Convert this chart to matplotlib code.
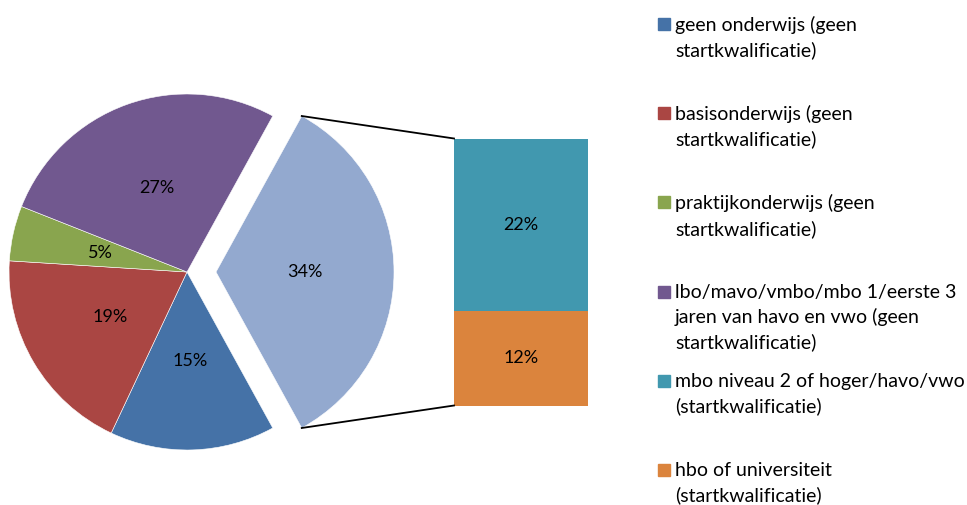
import numpy as np
import matplotlib
matplotlib.use("Agg")
import matplotlib.pyplot as plt
from matplotlib.patches import Rectangle

plt.rcParams['font.family'] = ['Lato', 'DejaVu Sans']

# pie part (percentages)
pie_labels = [
    "geen onderwijs (geen\nstartkwalificatie)",
    "basisonderwijs (geen\nstartkwalificatie)",
    "praktijkonderwijs (geen\nstartkwalificatie)",
    "lbo/mavo/vmbo/mbo 1/eerste 3\njaren van havo en vwo (geen\nstartkwalificatie)",
]
pie_values = [15, 19, 5, 27]
pie_colors = ["#4572A7", "#AA4643", "#89A54E", "#71588F"]

# bar part (split of the exploded slice)
bar_labels = [
    "mbo niveau 2 of hoger/havo/vwo\n(startkwalificatie)",
    "hbo of universiteit\n(startkwalificatie)",
]
bar_values = [22, 12]
bar_colors = ["#4198AF", "#DB843D"]
other_color = "#93A9CF"

W, H = 967, 505
fig = plt.figure(figsize=(W / 100, H / 100), dpi=100)
ax = fig.add_axes([0, 0, 1, 1])

R = 178
cx, cy = 187, 233
shift = 29
other = sum(bar_values)
start = -other * 3.6 / 2

values = pie_values + [other]
wedges, texts, autotexts = ax.pie(
    values, radius=R, center=(cx, cy), startangle=start, counterclock=False,
    explode=[0] * len(pie_values) + [shift],
    colors=pie_colors + [other_color],
    autopct=lambda p: f"{p:.0f}%", pctdistance=0.5,
    wedgeprops=dict(edgecolor='white', linewidth=0.4),
    textprops=dict(fontsize=13, color='black'), frame=True)
ax.set_xlim(0, W)
ax.set_ylim(0, H)
ax.set_aspect('equal')
ax.axis('off')

# stacked bar of the split
scale = 0.75 * 2 * R / other
bx, bw = 521, 134
bottom = cy - other * scale / 2
for v, c in zip(bar_values[::-1], bar_colors[::-1]):
    ax.bar(bx, v * scale, width=bw, bottom=bottom, color=c, edgecolor='none')
    ax.text(bx, bottom + v * scale / 2, f"{v}%", ha='center', va='center',
            fontsize=13)
    bottom += v * scale

# connector lines
half = np.deg2rad(other * 3.6 / 2)
ex = cx + shift
top_bar = cy + other * scale / 2
bot_bar = cy - other * scale / 2
ax.plot([ex + R * np.cos(half), bx - bw / 2], [cy + R * np.sin(half), top_bar],
        color='black', lw=1.3)
ax.plot([ex + R * np.cos(half), bx - bw / 2], [cy - R * np.sin(half), bot_bar],
        color='black', lw=1.3)

# legend, evenly spaced entries
leg_labels = pie_labels + bar_labels
leg_colors = pie_colors + bar_colors
for i, (lab, col) in enumerate(zip(leg_labels, leg_colors)):
    base = H - 31 - i * 89.2
    ax.add_patch(Rectangle((658, base + 1), 12, 12, color=col))
    ax.text(675, base + 15, lab, ha='left', va='top', fontsize=14,
            linespacing=1.5)

fig.savefig("out.png", dpi=100)
